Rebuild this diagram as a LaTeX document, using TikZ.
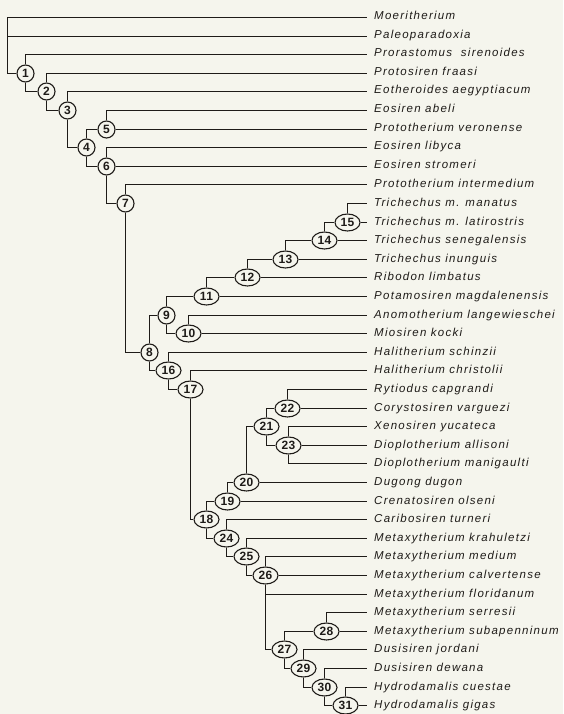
\documentclass[tikz,border=0pt]{standalone}
\usepackage{fontspec}
\usetikzlibrary{shapes.geometric}
\newfontfamily\labelfont[LetterSpace=11]{Liberation Sans}
\newfontfamily\numfont[LetterSpace=4]{Liberation Sans}
\definecolor{bgc}{RGB}{245,245,237}
\definecolor{ink}{RGB}{30,27,24}
\newcommand{\rowy}[1]{round(17+18.6*#1)+0.5}
\begin{document}
\begin{tikzpicture}[x=1pt,y=-1pt,
  leaf/.style={anchor=west,inner xsep=7pt,inner ysep=0pt,text height=7pt,text depth=2pt,
    font=\labelfont\itshape\fontsize{11.5}{13}\selectfont,text=ink},
  nd/.style={ellipse,draw=ink,line width=1.1pt,fill=bgc,inner sep=0pt,minimum width=17pt,minimum height=17pt,
    font=\numfont\bfseries\fontsize{12}{12}\selectfont,text=ink},
  ndw/.style={nd,minimum width=25pt},
  br/.style={draw=ink,line width=1.6pt}]
\fill[bgc] (0,0) rectangle (563,714);
\useasboundingbox (0,0) rectangle (563,714);
% leaves
\foreach \i/\t in {0/Moeritherium,1/Paleoparadoxia,2/Prorastomus\ \ sirenoides,3/Protosiren fraasi,
  4/Eotheroides aegyptiacum,5/Eosiren abeli,6/Prototherium veronense,7/Eosiren libyca,
  8/Eosiren stromeri,9/Prototherium intermedium,10/Trichechus m. manatus,11/Trichechus m. latirostris,
  12/Trichechus senegalensis,13/Trichechus inunguis,14/Ribodon limbatus,15/Potamosiren magdalenensis,
  16/Anomotherium langewieschei,17/Miosiren kocki,18/Halitherium schinzii,19/Halitherium christolii,
  20/Rytiodus capgrandi,21/Corystosiren varguezi,22/Xenosiren yucateca,23/Dioplotherium allisoni,
  24/Dioplotherium manigaulti,25/Dugong dugon,26/Crenatosiren olseni,27/Caribosiren turneri,
  28/Metaxytherium krahuletzi,29/Metaxytherium medium,30/Metaxytherium calvertense,
  31/Metaxytherium floridanum,32/Metaxytherium serresii,33/Metaxytherium subapenninum,
  34/Dusisiren jordani,35/Dusisiren dewana,36/Hydrodamalis cuestae,37/Hydrodamalis gigas}
  \node[leaf] (L\i) at (367,{\rowy{\i}}) {\t};
% internal nodes
\coordinate (root) at (7.5,{\rowy{0}});
\node[nd] (n1) at (25.5,{\rowy{3}}) {1};
\node[nd] (n2) at (46.5,{\rowy{4}}) {2};
\node[nd] (n3) at (67.5,{\rowy{5}}) {3};
\node[nd] (n4) at (86.5,{\rowy{7}}) {4};
\node[nd] (n5) at (106.5,{\rowy{6}}) {5};
\node[nd] (n6) at (106.5,{\rowy{8}}) {6};
\node[nd] (n7) at (125.5,{\rowy{10}}) {7};
\node[nd] (n8) at (149.5,{\rowy{18}}) {8};
\node[nd] (n9) at (166.5,{\rowy{16}}) {9};
\node[ndw] (n10) at (188.5,{\rowy{17}}) {10};
\node[ndw] (n11) at (206.5,{\rowy{15}}) {11};
\node[ndw] (n12) at (247.5,{\rowy{14}}) {12};
\node[ndw] (n13) at (285.5,{\rowy{13}}) {13};
\node[ndw] (n14) at (324.5,{\rowy{12}}) {14};
\node[ndw] (n15) at (347.5,{\rowy{11}}) {15};
\node[ndw] (n16) at (168.5,{\rowy{19}}) {16};
\node[ndw] (n17) at (190.5,{\rowy{20}}) {17};
\node[ndw] (n18) at (206.5,{\rowy{27}}) {18};
\node[ndw] (n19) at (227.5,{\rowy{26}}) {19};
\node[ndw] (n20) at (246.5,{\rowy{25}}) {20};
\node[ndw] (n21) at (266.5,{\rowy{22}}) {21};
\node[ndw] (n22) at (287.5,{\rowy{21}}) {22};
\node[ndw] (n23) at (288.5,{\rowy{23}}) {23};
\node[ndw] (n24) at (226.5,{\rowy{28}}) {24};
\node[ndw] (n25) at (246.5,{\rowy{29}}) {25};
\node[ndw] (n26) at (265.5,{\rowy{30}}) {26};
\node[ndw] (n27) at (284.5,{\rowy{34}}) {27};
\node[ndw] (n28) at (326.5,{\rowy{33}}) {28};
\node[ndw] (n29) at (303.5,{\rowy{35}}) {29};
\node[ndw] (n30) at (324.5,{\rowy{36}}) {30};
\node[ndw] (n31) at (345.5,{\rowy{37}}) {31};
% connectors
\draw[br] (root) -- (L0.west);
\draw[br] (root |- L1.west) -- (L1.west);
\draw[br] (root) |- (n1.west);
\draw[br] (n1.north) |- (L2.west);  \draw[br] (n1.south) |- (n2.west);
\draw[br] (n2.north) |- (L3.west);  \draw[br] (n2.south) |- (n3.west);
\draw[br] (n3.north) |- (L4.west);  \draw[br] (n3.south) |- (n4.west);
\draw[br] (n4.north) |- (n5.west);  \draw[br] (n4.south) |- (n6.west);
\draw[br] (n5.north) |- (L5.west);  \draw[br] (n5.east) -- (L6.west);
\draw[br] (n6.north) |- (L7.west);  \draw[br] (n6.east) -- (L8.west);  \draw[br] (n6.south) |- (n7.west);
\draw[br] (n7.north) |- (L9.west);  \draw[br] (n7.south) |- (n8.west);
\draw[br] (n8.north) |- (n9.west);  \draw[br] (n8.south) |- (n16.west);
\draw[br] (n9.north) |- (n11.west); \draw[br] (n9.south) |- (n10.west);
\draw[br] (n10.north) |- (L16.west); \draw[br] (n10.east) -- (L17.west);
\draw[br] (n11.north) |- (n12.west); \draw[br] (n11.east) -- (L15.west);
\draw[br] (n12.north) |- (n13.west); \draw[br] (n12.east) -- (L14.west);
\draw[br] (n13.north) |- (n14.west); \draw[br] (n13.east) -- (L13.west);
\draw[br] (n14.north) |- (n15.west); \draw[br] (n14.east) -- (L12.west);
\draw[br] (n15.north) |- (L10.west); \draw[br] (n15.east) -- (L11.west);
\draw[br] (n16.north) |- (L18.west); \draw[br] (n16.south) |- (n17.west);
\draw[br] (n17.north) |- (L19.west); \draw[br] (n17.south) |- (n18.west);
\draw[br] (n18.north) |- (n19.west); \draw[br] (n18.south) |- (n24.west);
\draw[br] (n19.north) |- (n20.west); \draw[br] (n19.east) -- (L26.west);
\draw[br] (n20.north) |- (n21.west); \draw[br] (n20.east) -- (L25.west);
\draw[br] (n21.north) |- (n22.west); \draw[br] (n21.south) |- (n23.west);
\draw[br] (n22.north) |- (L20.west); \draw[br] (n22.east) -- (L21.west);
\draw[br] (n23.north) |- (L22.west); \draw[br] (n23.east) -- (L23.west); \draw[br] (n23.south) |- (L24.west);
\draw[br] (n24.north) |- (L27.west); \draw[br] (n24.south) |- (n25.west);
\draw[br] (n25.north) |- (L28.west); \draw[br] (n25.south) |- (n26.west);
\draw[br] (n26.north) |- (L29.west); \draw[br] (n26.east) -- (L30.west);
\draw[br] (n26.south |- L31.west) -- (L31.west); \draw[br] (n26.south) |- (n27.west);
\draw[br] (n27.north) |- (n28.west); \draw[br] (n27.south) |- (n29.west);
\draw[br] (n28.north) |- (L32.west); \draw[br] (n28.east) -- (L33.west);
\draw[br] (n29.north) |- (L34.west); \draw[br] (n29.south) |- (n30.west);
\draw[br] (n30.north) |- (L35.west); \draw[br] (n30.south) |- (n31.west);
\draw[br] (n31.north) |- (L36.west); \draw[br] (n31.east) -- (L37.west);
\end{tikzpicture}
\end{document}
